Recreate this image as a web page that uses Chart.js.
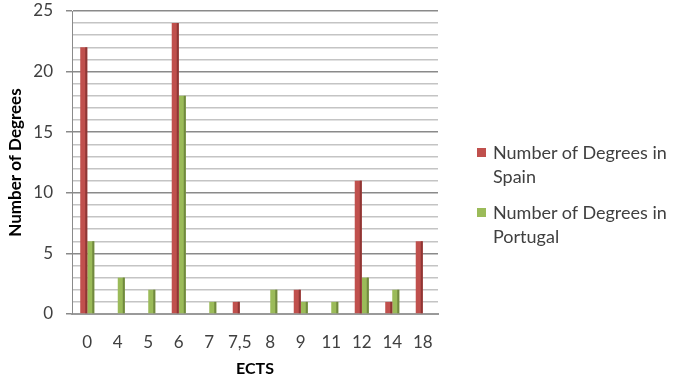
<!DOCTYPE html>
<html>
<head>
<meta charset="utf-8">
<script src="https://cdn.jsdelivr.net/npm/chart.js@4/dist/chart.umd.min.js"></script>
<style>
  html, body { margin: 0; padding: 0; background: #fff; }
  #wrap { position: relative; width: 673px; height: 378px; }
  #legend { position: absolute; left: 476px; top: 140px; font-family: Lato, "Open Sans", sans-serif; font-size: 18px; color: #404040; line-height: 24px; }
  .item { position: relative; padding-left: 17px; margin-bottom: 12px; white-space: nowrap; }
  .sw { position: absolute; left: 1px; top: 8px; width: 9px; height: 9px; }
</style>
</head>
<body>
<div id="wrap">
  <canvas id="c" width="673" height="378"></canvas>
  <div id="legend"></div>
</div>
<script>
// ECTS credit values and number of degrees per country
const ectsLabels = ["0", "4", "5", "6", "7", "7,5", "8", "9", "11", "12", "14", "18"];
const spainDegrees = [22, 0, 0, 24, 0, 1, 0, 2, 0, 11, 1, 6];
const portugalDegrees = [6, 3, 2, 18, 1, 0, 2, 1, 1, 3, 2, 0];
const seriesNames = ["Number of Degrees in Spain", "Number of Degrees in Portugal"];
const seriesColors = ["#C0504D", "#9BBB59"];
const sideColors = ["#8E3634", "#71893F"];

const font = "Lato, 'Open Sans', sans-serif";

// Darker right face on each bar for a shaded column look
const barShade = {
  id: 'barShade',
  afterDatasetsDraw(chart) {
    const ctx = chart.ctx;
    chart.data.datasets.forEach((ds, i) => {
      chart.getDatasetMeta(i).data.forEach(bar => {
        const w = bar.width;
        const top = Math.min(bar.y, bar.base);
        const h = Math.abs(bar.base - bar.y);
        if (h <= 0) return;
        ctx.save();
        ctx.fillStyle = sideColors[i];
        ctx.fillRect(bar.x + w / 2 - 2, top, 2, h);
        ctx.restore();
      });
    });
  }
};

new Chart(document.getElementById('c'), {
  type: 'bar',
  data: {
    labels: ectsLabels,
    datasets: [
      { label: seriesNames[0], data: spainDegrees, backgroundColor: seriesColors[0] },
      { label: seriesNames[1], data: portugalDegrees, backgroundColor: seriesColors[1] }
    ]
  },
  plugins: [barShade],
  options: {
    responsive: false,
    animation: false,
    layout: { padding: { top: 11, right: 235, left: 0, bottom: 0 } },
    datasets: { bar: { categoryPercentage: 0.46, barPercentage: 1 } },
    plugins: { legend: { display: false }, tooltip: { enabled: false } },
    scales: {
      x: {
        grid: { display: false, drawTicks: false },
        border: { display: true, color: '#9a9a9a', width: 2 },
        ticks: { color: '#404040', font: { family: font, size: 17 }, padding: 18, maxRotation: 0, autoSkip: false },
        title: { display: true, text: 'ECTS', color: '#000', font: { family: font, size: 16, weight: 'bold' }, padding: { top: 6, bottom: 0 } },
        afterFit(s) { s.height = 64; }
      },
      y: {
        min: 0, max: 25,
        ticks: {
          stepSize: 1, autoSkip: false, color: '#404040', font: { family: font, size: 17 }, padding: 13,
          callback: v => (v % 5 === 0 ? v : '')
        },
        grid: {
          color: c => (c.tick && c.tick.value % 5 === 0 ? '#8a8a8a' : '#c4c4c4'),
          lineWidth: 1.5,
          tickColor: c => (c.tick && c.tick.value % 5 === 0 ? '#8a8a8a' : 'rgba(0,0,0,0)'),
          tickLength: 6
        },
        border: { display: true, color: '#8a8a8a', width: 1 },
        title: { display: true, text: 'Number of Degrees', color: '#000', font: { family: font, size: 17, weight: 'bold' }, padding: { top: 5, bottom: 0 } },
        afterFit(s) { s.width = 72; s.paddingTop = 0; s.paddingBottom = 0; }
      }
    }
  }
});

// Legend entries
const legend = document.getElementById('legend');
seriesNames.forEach((name, i) => {
  const item = document.createElement('div');
  item.className = 'item';
  const sw = document.createElement('span');
  sw.className = 'sw';
  sw.style.background = seriesColors[i];
  item.appendChild(sw);
  const words = name.split(' ');
  const last = words.pop();
  item.appendChild(document.createTextNode(words.join(' ')));
  item.appendChild(document.createElement('br'));
  item.appendChild(document.createTextNode(last));
  legend.appendChild(item);
});
</script>
</body>
</html>
